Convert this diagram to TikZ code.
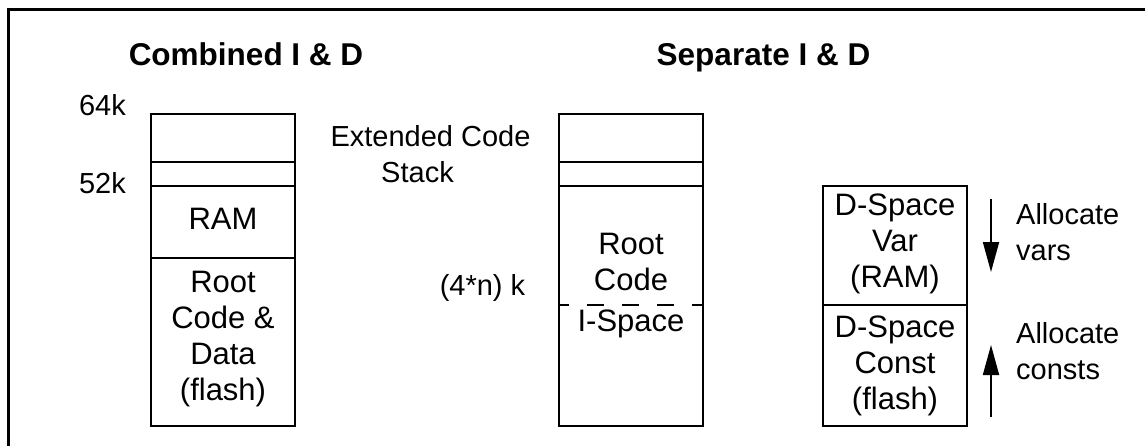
\documentclass[tikz,border=0pt]{standalone}
\usepackage{fontspec}
\setmainfont{Liberation Sans}
\usetikzlibrary{positioning,arrows.meta}
\newcommand{\boxfont}{\fontsize{31}{36}\selectfont}
\newcommand{\lblfont}{\fontsize{29}{36}\selectfont}
\newcommand{\ttlfont}{\bfseries\fontsize{31.5}{36}\selectfont}

\begin{document}
\begin{tikzpicture}[
  x=1pt, y=-1pt,
  mem/.style={draw, line width=1.8pt, minimum width=144pt, outer sep=0pt, inner sep=0pt, align=center, font=\boxfont},
  intext/.style={font=\boxfont, align=center, inner sep=0pt},
  lbl/.style={font=\lblfont, align=center, inner sep=0pt},
  ttl/.style={font=\ttlfont, inner sep=0pt},
  arr/.style={-{Triangle[length=30pt, width=16pt]}, line width=1.8pt},
  cutline/.style={line width=1.8pt, dash pattern=on 17pt off 18pt, dash phase=7pt},
]
\useasboundingbox (0,0) rectangle (1145,445);

% frame, open at the bottom and the right
\draw[line width=2.8pt] (8.7,460) -- (8.7,9.5) -- (1160,9.5);

% Combined I & D
\node[ttl, anchor=base] (tcomb) at (246,65) {Combined I \& D};
\node[mem, minimum height=48pt, anchor=north] (c64) at (223,114) {};
\node[mem, minimum height=24pt, below=0pt of c64] (cstk) {};
\node[mem, minimum height=72pt, text depth=6pt, below=0pt of cstk] (cram) {RAM};
\node[mem, minimum height=168pt, text depth=12pt, below=0pt of cram] (croot) {Root\\Code \&\\Data\\(flash)};
\node[lbl, anchor=base] (k64) at (102.5,115) {64k};
\node[lbl, anchor=base] (k52) at (102.5,193) {52k};

% Separate I & D
\node[ttl, anchor=base] (tsep) at (763.5,65) {Separate I \& D};
\node[mem, minimum height=48pt, anchor=north] (s64) at (631,114) {};
\node[mem, minimum height=24pt, below=0pt of s64] (sstk) {};
\node[mem, minimum height=240pt, below=0pt of sstk] (sroot) {};
\coordinate (cut) at (631,305);
\draw[cutline] (sroot.west |- cut) -- (sroot.east |- cut);
\node[intext, above=14pt of cut] (rcode) {Root\\Code};
\node[intext, below=5pt of cut] (ispace) {I-Space};
\node[lbl, anchor=north] (ext) at (430.5,125) {Extended Code\\Stack\hspace*{26pt}};
\node[lbl, anchor=base] (kn) at (482.5,295) {(4*n) k};

% D-space
\node[mem, minimum height=119pt, text depth=10pt, anchor=north] (dvar) at (895,186) {D-Space\\Var\\(RAM)};
\node[mem, minimum height=121pt, below=0pt of dvar] (dconst) {D-Space\\Const\\(flash)};
\coordinate (vtail) at (991,199);
\coordinate (vtip) at (991,272);
\coordinate (ctail) at (991,417);
\coordinate (ctip) at (991,345);
\draw[arr] (vtail) -- (vtip);
\draw[arr] (ctail) -- (ctip);
\node[lbl, align=left, anchor=north west] (avars) at (1016,203) {Allocate\\vars};
\node[lbl, align=left, anchor=north west] (aconst) at (1016,322) {Allocate\\consts};
\end{tikzpicture}
\end{document}
